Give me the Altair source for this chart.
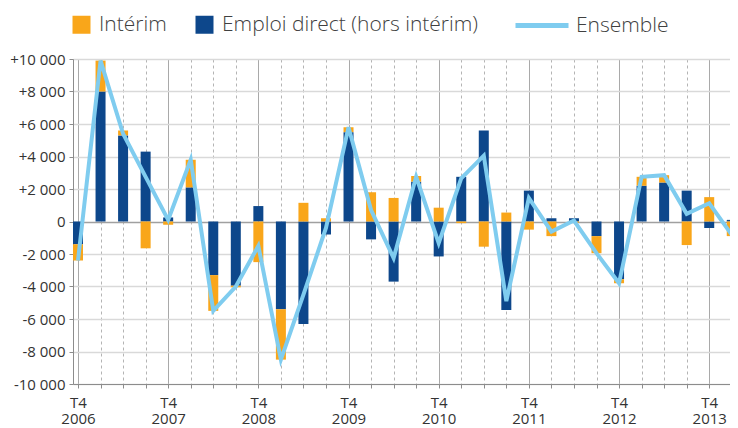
import altair as alt
import pandas as pd

quarters = ["T4 2006", "T1 2007", "T2 2007", "T3 2007", "T4 2007", "T1 2008", "T2 2008", "T3 2008",
            "T4 2008", "T1 2009", "T2 2009", "T3 2009", "T4 2009", "T1 2010", "T2 2010", "T3 2010",
            "T4 2010", "T1 2011", "T2 2011", "T3 2011", "T4 2011", "T1 2012", "T2 2012", "T3 2012",
            "T4 2012", "T1 2013", "T2 2013", "T3 2013", "T4 2013", "T1 2014"]
interim = [-1000, 1900, 300, -1650, -200, 1700, -2200, -100, -2500, -3100, 1150, 200, 300, 1800, 1450,
           350, 850, -100, -1550, 550, -500, -900, -80, -1050, -250, 550, 450, -1450, 1500, -900]
direct = [-1400, 8000, 5300, 4300, 250, 2100, -3300, -3950, 950, -5400, -6300, -800, 5500, -1100, -3700,
          2450, -2150, 2750, 5600, -5450, 1900, 200, 200, -900, -3550, 2200, 2400, 1900, -400, 100]
ensemble = [-2400, 9900, 5400, 2750, 100, 3800, -5500, -4000, -1500, -8500, -4500, -400, 5800, 700, -2250,
            2750, -1330, 2650, 4050, -4900, 1450, -620, 60, -1950, -3800, 2750, 2850, 470, 1120, -820]

S_INT = "Intérim"
S_DIR = "Emploi direct (hors intérim)"
S_ENS = "Ensemble"

rows = []
for i, q in enumerate(quarters):
    rows.append({"idx": i, "q": q, "serie": S_DIR, "value": direct[i], "ord": 0})
    rows.append({"idx": i, "q": q, "serie": S_INT, "value": interim[i], "ord": 1})
bars_df = pd.DataFrame(rows)
line_df = pd.DataFrame({"idx": list(range(len(quarters))), "q": quarters, "serie": S_ENS, "value": ensemble})

FONT = "Open Sans"
quarters_js = "[" + ",".join("'%s'" % q for q in quarters) + "]"
x_label_expr = f"datum.value % 4 == 0 ? split({quarters_js}[datum.value], ' ') : ''"
y_label_expr = ("(datum.value > 0 ? '+' : (datum.value < 0 ? '-' : '')) + "
                "replace(format(abs(datum.value), ','), ',', ' ')")

x_scale = alt.Scale(domain=[0, 28.7], nice=False, zero=False)
y_scale = alt.Scale(domain=[-10000, 10000], nice=False)

x_axis = alt.Axis(
    values=list(range(29)), title=None, labelExpr=x_label_expr, labelAngle=0,
    labelOverlap=False, labelFlush=False, labelFontSize=15, labelLineHeight=16,
    labelColor="#333333", labelFont=FONT, labelPadding=7, labelBaseline="top",
    tickSize=4, tickColor="#8c8c8c", domainColor="#8c8c8c",
    grid=True,
    gridDash={"condition": {"test": "datum.value % 4 == 0", "value": [1, 0]}, "value": [3, 3]},
    gridColor={"condition": {"test": "datum.value % 4 == 0", "value": "#8c8c8c"}, "value": "#b4b4b4"},
    gridWidth=1,
)
y_axis = alt.Axis(
    values=list(range(-10000, 10001, 2000)), title=None, labelExpr=y_label_expr,
    labelFontSize=15, labelColor="#333333", labelFont=FONT, labelPadding=4,
    tickSize=4, tickColor="#8c8c8c", domainColor="#8c8c8c",
    grid=True,
    gridColor={"condition": {"test": "datum.value == 0", "value": "#a0a0a0"}, "value": "#d9d9d9"},
    gridWidth=1.5,
)

bars = alt.Chart(bars_df).mark_bar(size=10, clip=True).encode(
    x=alt.X("idx:Q", scale=x_scale, axis=x_axis),
    y=alt.Y("value:Q", stack="zero", scale=y_scale, axis=y_axis),
    fill=alt.Fill("serie:N", scale=alt.Scale(domain=[S_INT, S_DIR], range=["#f9a61a", "#0d478b"]),
                  legend=alt.Legend(orient="none", legendX=-2, legendY=-45, direction="horizontal",
                                    title=None, symbolType="square", symbolSize=324,
                                    symbolStrokeWidth=0, labelFontSize=21, labelFont=FONT,
                                    labelFontWeight=300, labelColor="#404040", labelOffset=7,
                                    columnPadding=27, padding=0, labelLimit=400)),
    order=alt.Order("ord:Q"),
)

line = alt.Chart(line_df).mark_line(strokeWidth=4, clip=True).encode(
    x=alt.X("idx:Q", scale=x_scale, axis=x_axis),
    y=alt.Y("value:Q", scale=y_scale, axis=y_axis),
    stroke=alt.Stroke("serie:N", scale=alt.Scale(domain=[S_ENS], range=["#7fccef"]),
                      legend=alt.Legend(orient="none", legendX=440, legendY=-62.5, title=None,
                                        symbolType="stroke", symbolSize=2809, symbolStrokeWidth=5,
                                        labelFontSize=21, labelFont=FONT, labelFontWeight=300,
                                        labelColor="#404040", labelOffset=5, padding=0)),
)

chart = alt.layer(bars, line).properties(
    width=657, height=325,
    padding={"left": 65, "top": 51, "right": 0, "bottom": 44},
    autosize=alt.AutoSizeParams(type="none"),
).configure_view(stroke=None).configure(font=FONT)

chart.save("out.html", embed_options={"renderer": "svg", "actions": False})
